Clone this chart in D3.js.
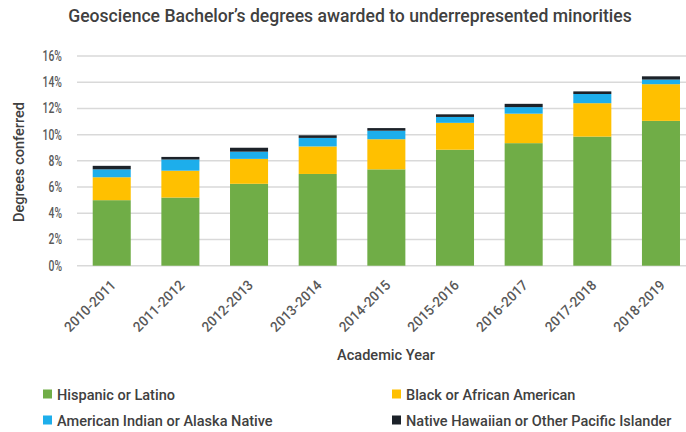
<!DOCTYPE html>
<html>
<head>
<meta charset="utf-8">
<script src="https://cdn.jsdelivr.net/npm/d3@7"></script>
<style>
  html, body { margin: 0; padding: 0; background: #fff; }
  svg { display: block; }
  text { font-family: "Roboto", "Liberation Sans", sans-serif; font-weight: 500; }
</style>
</head>
<body>
<svg id="chart" width="686" height="432"></svg>
<script>
// Academic years on the x axis
const years = ["2010-2011", "2011-2012", "2012-2013", "2013-2014", "2014-2015",
               "2015-2016", "2016-2017", "2017-2018", "2018-2019"];

// Share of geoscience bachelor's degrees (%) by group, stacked bottom to top
const hispanic   = [5.0, 5.2, 6.25, 7.0, 7.35, 8.85, 9.35, 9.85, 11.05];
const black      = [1.75, 2.05, 1.9, 2.1, 2.3, 2.05, 2.25, 2.55, 2.8];
const amIndian   = [0.6, 0.85, 0.55, 0.65, 0.65, 0.45, 0.5, 0.7, 0.35];
const hawaiian   = [0.27, 0.2, 0.3, 0.2, 0.2, 0.2, 0.25, 0.2, 0.25];

const seriesNames = ["Hispanic or Latino", "Black or African American",
                     "American Indian or Alaska Native", "Native Hawaiian or Other Pacific Islander"];
const seriesColors = ["#70AD47", "#FFC000", "#1DAEEB", "#1c2229"];

const yTicks = [0, 2, 4, 6, 8, 10, 12, 14, 16];

const rows = years.map((y, i) => ({
  year: y,
  [seriesNames[0]]: hispanic[i],
  [seriesNames[1]]: black[i],
  [seriesNames[2]]: amIndian[i],
  [seriesNames[3]]: hawaiian[i]
}));

// Condensed look: squeeze each text horizontally, after its placement transform
function squeeze(sel, base, k) {
  sel.each(function (d, i) {
    const pre = typeof base === "function" ? base(d, i) : base;
    d3.select(this).attr("transform", `${pre} scale(${k},1)`);
  });
}
function squeezeTo(sel, base, width) {
  const w = sel.node().getComputedTextLength();
  squeeze(sel, base, width / w);
}

const svg = d3.select("#chart");

const x = d3.scaleBand()
  .domain(years)
  .range([77.4, 695.3])
  .paddingInner(0.446)
  .paddingOuter(0.223);

const y = d3.scaleLinear().domain([0, 16]).range([265.7, 56]);

// Title
svg.append("text")
  .attr("text-anchor", "middle")
  .attr("font-size", 18)
  .attr("fill", "#404040")
  .text("Geoscience Bachelor\u2019s degrees awarded to underrepresented minorities")
  .call(squeezeTo, "translate(350,22)", 564);

// Horizontal gridlines
svg.append("g")
  .selectAll("line")
  .data(yTicks)
  .join("line")
  .attr("x1", 77).attr("x2", 686)
  .attr("y1", d => y(d)).attr("y2", d => y(d))
  .attr("stroke", "#d9d9d9").attr("stroke-width", 1.5);

// Y axis labels
const yAxis = d3.axisLeft(y).tickValues(yTicks).tickFormat(d => d + "%").tickSize(0).tickPadding(0);
const yg = svg.append("g").attr("transform", "translate(62,0)").call(yAxis);
yg.select(".domain").remove();
yg.selectAll("text")
  .attr("font-size", 14)
  .attr("font-weight", 600)
  .attr("fill", "#595959")
  .style("font-family", "Roboto, sans-serif")
  .call(squeeze, "", 0.74);

// Y axis title
svg.append("text")
  .attr("text-anchor", "middle")
  .attr("font-size", 15)
  .attr("fill", "#404040")
  .text("Degrees conferred")
  .call(squeezeTo, "translate(24,162) rotate(-90)", 120);

// Stacked bars
const stack = d3.stack().keys(seriesNames);
const layers = stack(rows);

svg.append("g")
  .selectAll("g")
  .data(layers)
  .join("g")
  .attr("fill", (d, i) => seriesColors[i])
  .selectAll("rect")
  .data(d => d)
  .join("rect")
  .attr("x", d => x(d.data.year))
  .attr("width", x.bandwidth())
  .attr("y", d => y(d[1]))
  .attr("height", d => y(d[0]) - y(d[1]));

// X axis labels, rotated
const xAxis = d3.axisBottom(x).tickSize(0).tickPadding(0);
const xg = svg.append("g").attr("transform", "translate(0,266)").call(xAxis);
xg.select(".domain").remove();
const xt = xg.selectAll("text")
  .attr("text-anchor", "end")
  .attr("y", 0)
  .attr("dy", 0)
  .attr("font-size", 14)
  .attr("font-weight", 600)
  .attr("fill", "#595959")
  .style("font-family", "Roboto, sans-serif");
xt.call(squeezeTo, "translate(5,20) rotate(-45)", 66);

// X axis title
svg.append("text")
  .attr("text-anchor", "middle")
  .attr("font-size", 15)
  .attr("fill", "#404040")
  .text("Academic Year")
  .call(squeezeTo, "translate(386,360)", 98);

// Legend in two columns
const legendPos = [[43, 394], [392, 394], [43, 420], [392, 420]];
const order = [0, 1, 2, 3];
const lg = svg.append("g")
  .selectAll("g")
  .data(order)
  .join("g")
  .attr("transform", i => `translate(${legendPos[i][0]},${legendPos[i][1]})`);
lg.append("rect")
  .attr("x", 0).attr("y", -4.5).attr("width", 9).attr("height", 9)
  .attr("fill", i => seriesColors[i]);
const lt = lg.append("text")
  .attr("font-size", 15.5)
  .attr("fill", "#404040")
  .text(i => seriesNames[i]);
// same squeeze for every entry, so "Hispanic or Latino" spans ~118px
const legendK = 118 / lt.node().getComputedTextLength();
lt.call(squeeze, "translate(14,5.5)", legendK);
</script>
</body>
</html>
